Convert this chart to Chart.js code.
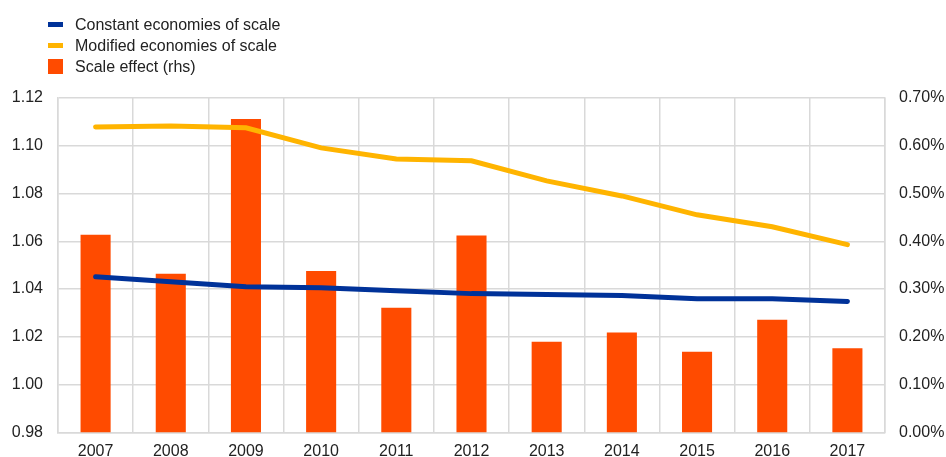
<!DOCTYPE html>
<html lang="en">
<head>
    <meta charset="UTF-8">
    <title>Economies of scale</title>
    <script src="https://cdn.jsdelivr.net/npm/chart.js"></script>
    <style>
        * { margin: 0; padding: 0; box-sizing: border-box; }
        body { width: 946px; height: 457px; background: #fff; font-family: "Liberation Sans", Arial, sans-serif; }
        .wrap { position: relative; width: 946px; height: 457px; }
        canvas { position: absolute; left: 0; top: 0; }
        .legend { position: absolute; left: 48px; top: 14px; font-size: 16px; color: #222; }
        .legend div { height: 21px; display: flex; align-items: center; }
        .legend span.key { display: inline-block; width: 15px; margin-right: 12px; }
        .legend span.line { height: 5px; }
        .legend span.box { height: 15px; }
    </style>
</head>
<body>
<div class="wrap">
    <canvas id="scale-chart" width="946" height="457"></canvas>
    <div class="legend">
        <div><span class="key line" style="background:#003299"></span>Constant economies of scale</div>
        <div><span class="key line" style="background:#FFB400"></span>Modified economies of scale</div>
        <div><span class="key box" style="background:#FF4B00"></span>Scale effect (rhs)</div>
    </div>
</div>

<script>
    const years = ['2007', '2008', '2009', '2010', '2011', '2012', '2013', '2014', '2015', '2016', '2017'];
    const constantScale = [1.0452, 1.0431, 1.0410, 1.0406, 1.0393, 1.0381, 1.0377, 1.0373, 1.0360, 1.0360, 1.0348];
    const modifiedScale = [1.1079, 1.1083, 1.1075, 1.0991, 1.0945, 1.0937, 1.0853, 1.0790, 1.0711, 1.0661, 1.0586];
    // scale effect in percent, read on the right-hand axis
    const scaleEffect = [0.414, 0.332, 0.656, 0.338, 0.261, 0.412, 0.190, 0.209, 0.169, 0.236, 0.176];

    const textColor = '#222';
    const gridColor = '#d9d9d9';
    const font = { family: '"Liberation Sans", Arial, sans-serif', size: 16 };

    new Chart(document.getElementById('scale-chart'), {
        data: {
            labels: years,
            datasets: [
                {
                    type: 'line',
                    label: 'Constant economies of scale',
                    data: constantScale,
                    yAxisID: 'y',
                    borderColor: '#003299',
                    borderWidth: 5,
                    pointRadius: 0,
                    tension: 0,
                    borderCapStyle: 'round',
                    order: 0
                },
                {
                    type: 'line',
                    label: 'Modified economies of scale',
                    data: modifiedScale,
                    yAxisID: 'y',
                    borderColor: '#FFB400',
                    borderWidth: 5,
                    pointRadius: 0,
                    tension: 0,
                    borderCapStyle: 'round',
                    order: 1
                },
                {
                    type: 'bar',
                    label: 'Scale effect (rhs)',
                    data: scaleEffect,
                    yAxisID: 'y2',
                    backgroundColor: '#FF4B00',
                    barPercentage: 0.4,
                    categoryPercentage: 1,
                    order: 2
                }
            ]
        },
        options: {
            responsive: false,
            animation: false,
            layout: { padding: { top: 98, left: 0, right: 0, bottom: 0 } },
            plugins: {
                legend: { display: false },
                tooltip: { enabled: false }
            },
            scales: {
                x: {
                    grid: { color: gridColor, lineWidth: 1.5, drawTicks: false, offset: true },
                    border: { color: gridColor, width: 1.5 },
                    ticks: { color: textColor, font: font, padding: 10, maxRotation: 0 },
                    afterFit: (s) => { s.height = 24; }
                },
                y: {
                    position: 'left',
                    min: 0.98,
                    max: 1.12,
                    grid: { color: gridColor, lineWidth: 1.5, drawTicks: false },
                    border: { color: gridColor, width: 1.5 },
                    ticks: {
                        stepSize: 0.02,
                        color: textColor,
                        font: font,
                        padding: 15,
                        callback: (v) => v.toFixed(2)
                    },
                    afterFit: (s) => { s.width = 58; }
                },
                y2: {
                    position: 'right',
                    min: 0,
                    max: 0.7,
                    grid: { display: false, drawTicks: false },
                    border: { color: gridColor, width: 1.5 },
                    ticks: {
                        stepSize: 0.1,
                        color: textColor,
                        font: font,
                        padding: 14,
                        callback: (v) => v.toFixed(2) + '%'
                    },
                    afterFit: (s) => { s.width = 61; }
                }
            }
        }
    });
</script>
</body>
</html>
